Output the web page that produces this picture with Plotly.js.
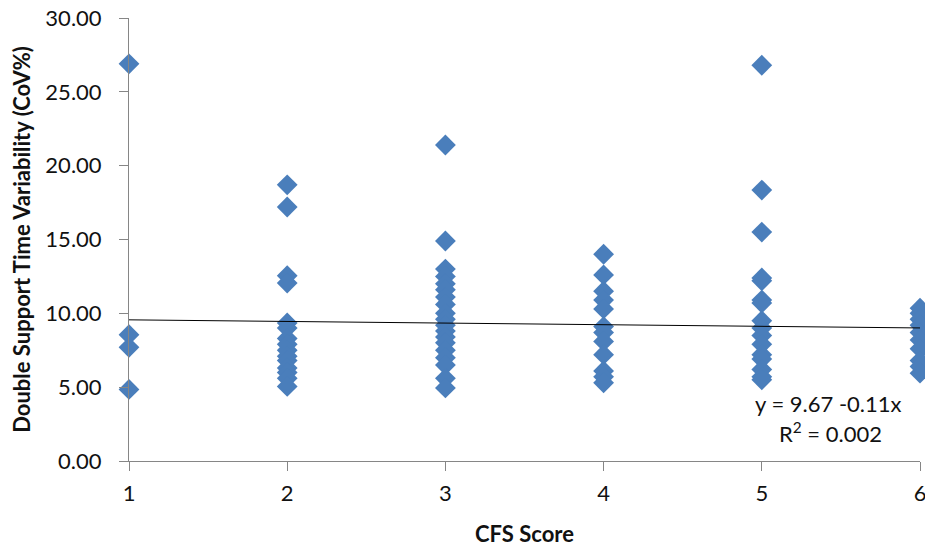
<!DOCTYPE html>
<html>
<head>
<meta charset="utf-8">
<script src="https://cdn.plot.ly/plotly-3.0.1.min.js"></script>
<style>
  html, body { margin: 0; padding: 0; background: #fff; }
  #chart { width: 925px; height: 548px; }
</style>
</head>
<body>
<div id="chart"></div>
<script>
// Double support time variability (CoV%) by CFS score
const score1 = [26.9, 8.55, 7.7, 4.85];
const score2 = [18.7, 17.2, 12.55, 12.05, 9.35, 9.0, 8.3, 7.9, 7.5, 7.1, 6.8, 6.3, 6.0, 5.6, 5.05];
const score3 = [21.4, 14.9, 13.0, 12.5, 12.0, 11.6, 11.1, 10.6, 10.0, 9.6, 9.2, 8.8, 8.4, 8.0, 7.5, 7.0, 6.5, 5.6, 4.95];
const score4 = [14.0, 12.6, 11.5, 10.9, 10.3, 9.1, 8.7, 8.1, 7.2, 6.1, 5.7, 5.3];
const score5 = [26.8, 18.35, 15.5, 12.4, 12.2, 10.9, 10.7, 9.5, 9.0, 8.5, 7.9, 7.2, 6.9, 6.2, 5.7, 5.5];
const score6 = [10.35, 10.0, 9.6, 9.2, 8.7, 8.2, 7.6, 6.8, 6.4, 5.95];

const scoreGroups = [score1, score2, score3, score4, score5, score6];
const xTicks = [1, 2, 3, 4, 5, 6];
const yTicks = [0, 5, 10, 15, 20, 25, 30];

// Linear fit shown on the chart
const fitIntercept = 9.67;
const fitSlope = -0.11;
const fitR2 = 0.002;

const xs = [], ys = [];
scoreGroups.forEach((vals, i) => {
  vals.forEach(v => { xs.push(xTicks[i]); ys.push(v); });
});

const fitX = [xTicks[0], xTicks[xTicks.length - 1]];
const fitY = fitX.map(x => fitIntercept + fitSlope * x);

const font = "Lato, 'Open Sans', 'DejaVu Sans', sans-serif";
const ink = '#111111';

const traces = [
  {
    x: xs, y: ys, type: 'scatter', mode: 'markers',
    marker: { symbol: 'diamond', size: 16, color: '#4a7ebb', line: { width: 0 } },
    cliponaxis: false, hoverinfo: 'x+y'
  },
  {
    x: fitX, y: fitY, type: 'scatter', mode: 'lines',
    line: { color: '#000000', width: 1 }, hoverinfo: 'skip'
  }
];

const layout = {
  width: 925, height: 548,
  margin: { l: 129, r: 5, t: 18, b: 87 },
  paper_bgcolor: '#ffffff', plot_bgcolor: '#ffffff',
  showlegend: false,
  font: { family: font, size: 22, color: ink },
  xaxis: {
    range: [1, 6], tickvals: xTicks, ticktext: xTicks.map(String),
    showgrid: false, zeroline: false,
    showline: true, linecolor: '#868686', linewidth: 1,
    ticks: 'outside', ticklen: 9, tickcolor: '#868686',
    ticklabeloverflow: 'allow', ticklabelstandoff: 4,
    tickfont: { family: font, size: 22, color: ink },
    title: { text: '<b>CFS Score</b>', font: { family: font, size: 22, color: ink }, standoff: 21 }
  },
  yaxis: {
    range: [0, 30], tickvals: yTicks, ticktext: yTicks.map(v => v.toFixed(2)),
    showgrid: false, zeroline: false,
    showline: true, linecolor: '#868686', linewidth: 1,
    ticks: 'outside', ticklen: 9, tickcolor: '#868686',
    ticklabelstandoff: 13,
    tickfont: { family: font, size: 22, color: ink },
    title: { text: '<b>Double Support Time Variability (CoV%)</b>', font: { family: font, size: 22, color: ink }, standoff: 8 }
  },
  annotations: [
    {
      xref: 'paper', yref: 'paper', x: (828 - 129) / 791, y: (461 - 403) / 443,
      text: 'y = ' + fitIntercept.toFixed(2) + ' ' + fitSlope.toFixed(2) + 'x',
      showarrow: false, font: { family: font, size: 22, color: ink }, xanchor: 'center', yanchor: 'middle'
    },
    {
      xref: 'paper', yref: 'paper', x: (830 - 129) / 791, y: (461 - 432) / 443,
      text: 'R<sup>2</sup> = ' + fitR2.toFixed(3),
      showarrow: false, font: { family: font, size: 22, color: ink }, xanchor: 'center', yanchor: 'middle'
    }
  ]
};

Plotly.newPlot('chart', traces, layout, { displayModeBar: false, staticPlot: true });
</script>
</body>
</html>
